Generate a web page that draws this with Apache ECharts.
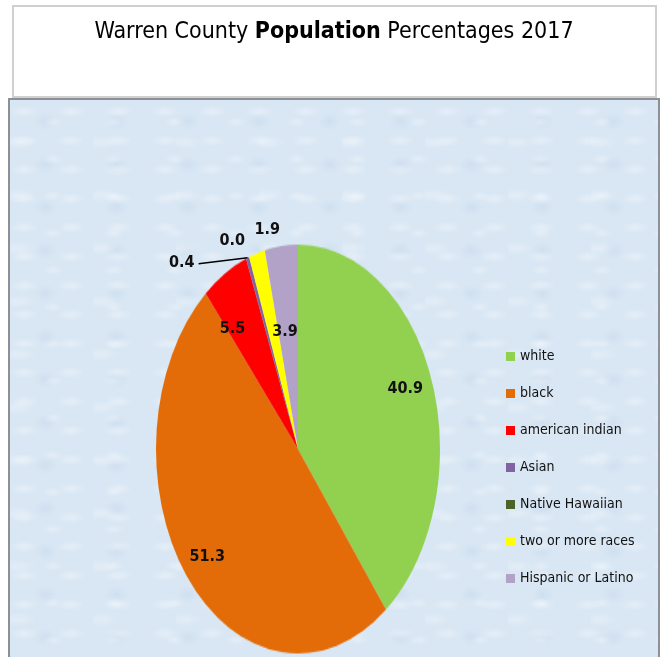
<!DOCTYPE html>
<html><head><meta charset="utf-8">
<script src="https://cdn.jsdelivr.net/npm/echarts@6/dist/echarts.min.js"></script>
<style>
html,body{margin:0;padding:0;background:#fff;}
#wrap{position:relative;width:660px;height:657px;overflow:hidden;background:#fff;}
#titlebox{position:absolute;left:12px;top:5px;width:641px;height:89px;border:2px solid #d0d0d0;background:#fff;}
#panel{position:absolute;left:8px;top:98px;width:648px;height:565px;border:2px solid #8c9198;
  background-color:#d9e7f4;
  background-image:
    radial-gradient(ellipse 14px 6px at 30% 40%, rgba(255,255,255,.3), rgba(255,255,255,0)),
    radial-gradient(ellipse 10px 5px at 70% 60%, rgba(255,255,255,.28), rgba(255,255,255,0)),
    radial-gradient(ellipse 18px 7px at 10% 80%, rgba(255,255,255,.25), rgba(255,255,255,0)),
    radial-gradient(ellipse 12px 9px at 50% 50%, rgba(190,210,232,.35), rgba(190,210,232,0));
  background-size: 47px 29px, 61px 37px, 83px 53px, 71px 43px;
}
#pie{position:absolute;left:0;top:0;width:660px;height:657px;transform-origin:298px 449px;transform:scaleY(1.44);}
#over{position:absolute;left:0;top:0;width:660px;height:657px;}
</style>
</head><body>
<div id="wrap">
  <div id="titlebox"></div>
  <div id="panel"></div>
  <div id="pie"></div>
  <div id="over"></div>
</div>
<script>
// ---- data ----
const categories = ['white', 'black', 'american indian', 'Asian', 'Native Hawaiian', 'two or more races', 'Hispanic or Latino'];
const values = [40.9, 51.3, 5.5, 0.4, 0.0, 1.9, 3.9];
const titleParts = ['Warren County ', 'Population', ' Percentages 2017'];

// ---- styles ----
const colors = ['#92d050', '#e36c09', '#ff0000', '#8064a2', '#4f6228', '#ffff00', '#b3a2c7'];
const FONT = '"Liberation Sans Narrow", "DejaVu Sans Condensed", Lato, sans-serif';
const CX = 298, CY = 449, R = 142, SY = 1.44;
const insideDepth = [1.62, 1.5, 1.48, 1, 1, 1, 1.15];
const labelNudge = [[-6,-4],[-5,6],[-9,15],[-2,5],[4,0],[32,0],[-3,5]];
const lineCfg = [null, null, null, {show:true, length:0, length2:47}, {show:false, length:12, length2:0}, {show:false, length:17, length2:0}, null];

const pieData = categories.map((n, i) => ({ name: n, value: values[i], itemStyle: { color: colors[i] } }));

// scaled pie (ellipse)
const pieChart = echarts.init(document.getElementById('pie'), null, { renderer: 'canvas' });
pieChart.setOption({
  animation: false,
  series: [{
    type: 'pie', center: [CX, CY], radius: R, startAngle: 90, clockwise: true,
    avoidLabelOverlap: false, silent: true, label: { show: false }, labelLine: { show: false },
    itemStyle: { borderWidth: 0 },
    data: pieData
  }]
});

// labels, title, legend
const overChart = echarts.init(document.getElementById('over'), null, { renderer: 'canvas' });
overChart.setOption({
  animation: false,
  graphic: [{
    type: 'text', x: 334, y: 32,
    style: {
      text: '{a|' + titleParts[0] + '}{b|' + titleParts[1] + '}{a|' + titleParts[2] + '}',
      align: 'center', verticalAlign: 'middle',
      rich: {
        a: { fontFamily: FONT, fontSize: 23, color: '#000' },
        b: { fontFamily: FONT, fontSize: 23, fontWeight: 'bold', color: '#000' }
      }
    }
  }],
  legend: {
    orient: 'vertical', left: 501, top: 343, itemWidth: 9, itemHeight: 9, itemGap: 20,
    icon: 'rect', selectedMode: false,
    textStyle: { fontFamily: FONT, fontSize: 14, color: '#111', lineHeight: 17 },
    data: categories.map((n, i) => ({ name: n, itemStyle: { color: colors[i], opacity: 1 } }))
  },
  series: [{
    type: 'pie', center: [CX, CY], radius: R, startAngle: 90, clockwise: true,
    avoidLabelOverlap: false, silent: true,
    itemStyle: { color: 'rgba(0,0,0,0)' },
    label: {
      show: true, opacity: 1, fontFamily: FONT, fontSize: 16, fontWeight: 'bold', color: '#111',
      distanceToLabelLine: 4,
      formatter: p => p.value.toFixed(1)
    },
    labelLine: { lineStyle: { color: '#000', width: 1.5, opacity: 1 } },
    labelLayout: function (params) {
      const i = params.dataIndex;
      const r = params.labelRect;
      const lx = r.x + r.width / 2, ly = r.y + r.height / 2;
      const k = values[i] >= 3 ? insideDepth[i] : 1;
      const nx = CX + (lx - CX) * k + labelNudge[i][0];
      const ny = CY + (ly - CY) * k * SY + labelNudge[i][1];
      const out = { dx: nx - lx, dy: ny - ly };
      if (params.labelLinePoints) {
        const pts = params.labelLinePoints.map(p => [p[0], CY + (p[1] - CY) * SY]);
        const last = pts[pts.length - 1];
        last[0] += labelNudge[i][0];
        last[1] += labelNudge[i][1] + 1;
        out.labelLinePoints = pts;
      }
      return out;
    },
    data: categories.map((n, i) => {
      const d = { name: n, value: values[i] };
      if (values[i] >= 3) {
        d.label = { position: 'inside' };
        d.labelLine = { show: false };
      } else {
        d.label = { position: 'outside' };
        d.labelLine = Object.assign({}, lineCfg[i], { lineStyle: { color: '#000', width: 1.5, opacity: 1 } });
      }
      return d;
    })
  }]
});
</script>
</body></html>
